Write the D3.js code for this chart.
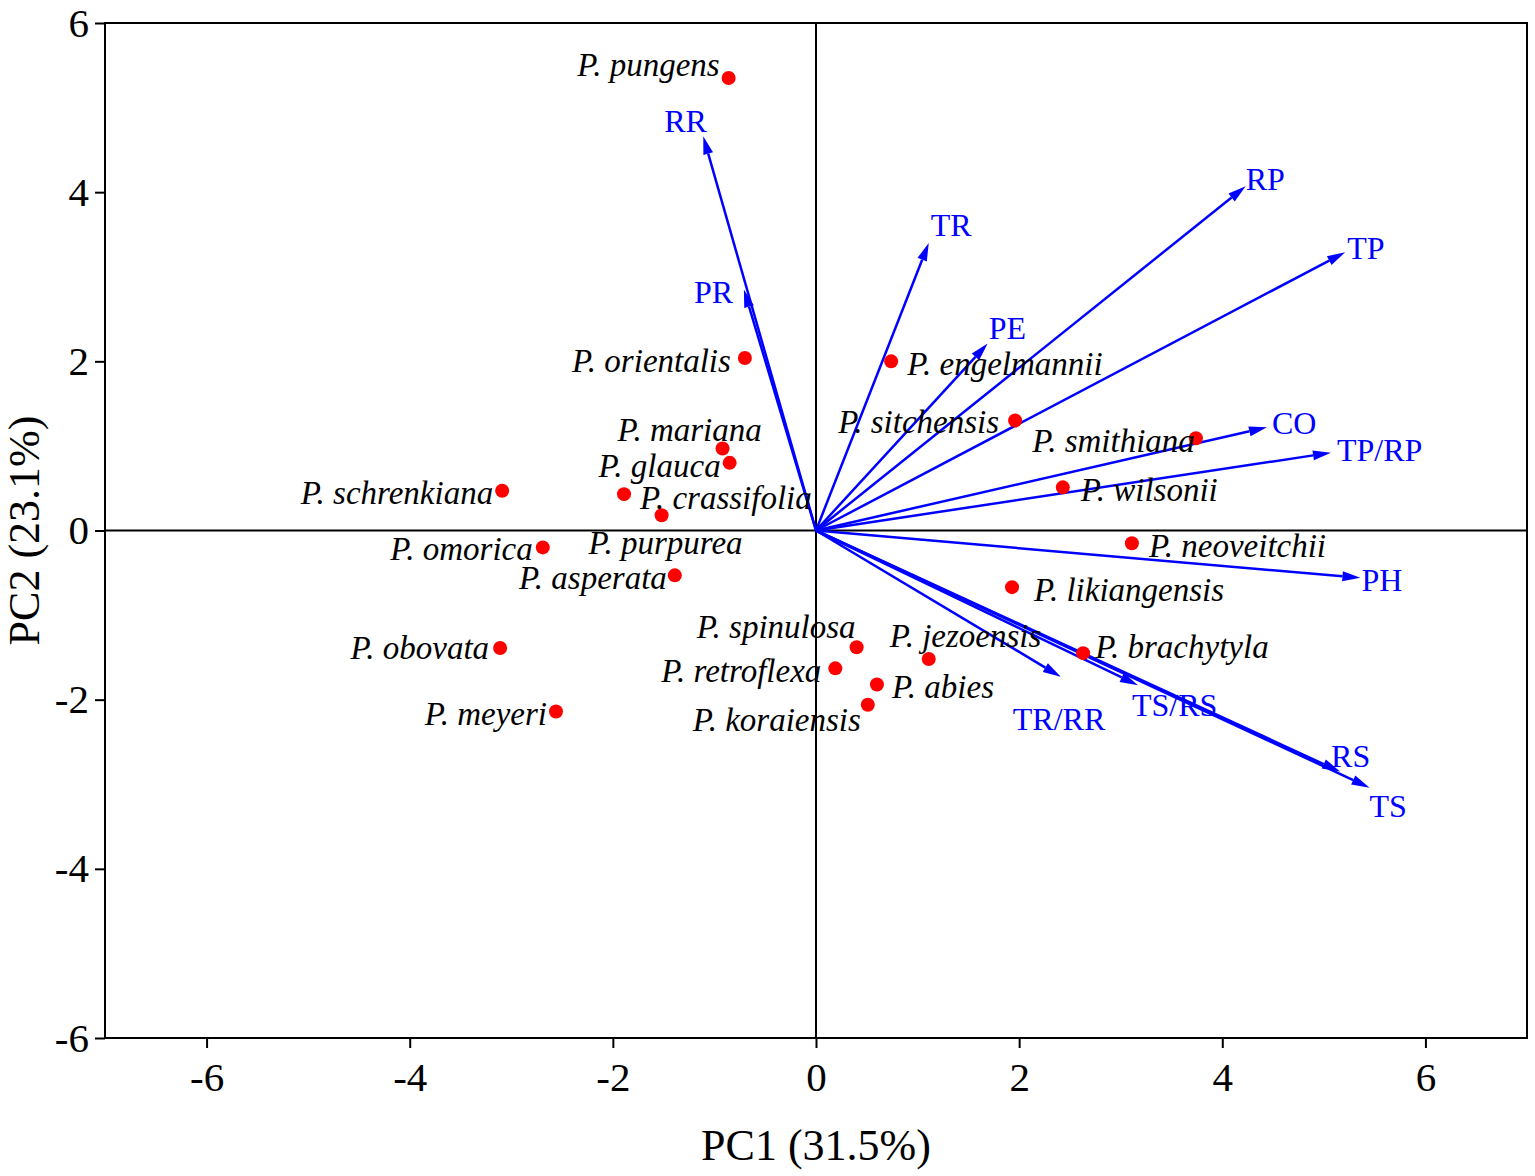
<!DOCTYPE html>
<html>
<head>
<meta charset="utf-8">
<script src="https://cdn.jsdelivr.net/npm/d3@7"></script>
<style>
  body { margin: 0; background: #fff; }
  text { font-family: "Liberation Serif", "Times New Roman", serif; }
  .species { font-style: italic; font-size: 33px; fill: #000; }
  .var-label { font-size: 32px; fill: #0000ff; }
  .axis text { font-size: 41px; fill: #000; }
  .axis path, .axis line { stroke: #000; stroke-width: 2px; }
  .axis-title { font-size: 44px; fill: #000; }
</style>
</head>
<body>
<div class="chart"></div>
<script>
"use strict";

// species scores (PC1, PC2)
const species = [
  "P. pungens", "P. orientalis", "P. mariana", "P. glauca", "P. crassifolia",
  "P. purpurea", "P. schrenkiana", "P. omorica", "P. asperata", "P. obovata",
  "P. meyeri", "P. spinulosa", "P. retroflexa", "P. abies", "P. koraiensis",
  "P. jezoensis", "P. engelmannii", "P. sitchensis", "P. smithiana",
  "P. wilsonii", "P. neoveitchii", "P. likiangensis", "P. brachytyla"
];
const pc1 = [
  -0.86, -0.70, -0.92, -0.85, -1.89, -1.52, -3.09, -2.69, -1.39, -3.11,
  -2.56, 0.40, 0.19, 0.60, 0.51, 1.11, 0.74, 1.96, 3.74, 2.43, 3.11, 1.93, 2.63
];
const pc2 = [
  5.35, 2.04, 0.97, 0.80, 0.43, 0.18, 0.47, -0.20, -0.53, -1.39,
  -2.14, -1.38, -1.63, -1.82, -2.06, -1.52, 2.00, 1.30, 1.09, 0.51, -0.15, -0.67, -1.45
];

// variable loadings (arrow tips)
const variables = ["RR", "PR", "TR", "PE", "RP", "TP", "CO", "TP/RP", "PH", "TR/RR", "TS/RS", "RS", "TS"];
const load1 = [-1.11, -0.71, 1.11, 1.69, 4.23, 5.21, 4.44, 5.07, 5.36, 2.41, 3.17, 5.16, 5.45];
const load2 = [4.66, 2.85, 3.40, 2.21, 4.07, 3.29, 1.22, 0.92, -0.56, -1.73, -1.83, -2.85, -3.04];

const ticks = [-6, -4, -2, 0, 2, 4, 6];

// label placement relative to the point (px): [dx, dy, anchor]
const speciesNudge = {
  "P. pungens": [-9, -14, "end"],
  "P. orientalis": [-14, 2, "end"],
  "P. mariana": [-105, -19, "start"],
  "P. glauca": [-9, 3, "end"],
  "P. crassifolia": [16, 3, "start"],
  "P. purpurea": [-73, 27, "start"],
  "P. schrenkiana": [-9, 2, "end"],
  "P. omorica": [-10, 1, "end"],
  "P. asperata": [-8, 2, "end"],
  "P. obovata": [-11, -1, "end"],
  "P. meyeri": [-9, 2, "end"],
  "P. spinulosa": [-1, -21, "end"],
  "P. retroflexa": [-14, 2, "end"],
  "P. abies": [15, 2, "start"],
  "P. koraiensis": [-7, 15, "end"],
  "P. jezoensis": [-39, -24, "start"],
  "P. engelmannii": [16, 2, "start"],
  "P. sitchensis": [-16, 1, "end"],
  "P. smithiana": [-1, 2, "end"],
  "P. wilsonii": [18, 2, "start"],
  "P. neoveitchii": [17, 2, "start"],
  "P. likiangensis": [22, 2, "start"],
  "P. brachytyla": [12, -7, "start"]
};
const varNudge = {
  "RR": [-39, -16], "PR": [-50, 2], "TR": [2, -18], "PE": [1, -16],
  "RP": [0, -7], "TP": [2, -4], "CO": [5, -5], "TP/RP": [6, -3],
  "PH": [1, 2], "TR/RR": [-48, 42], "TS/RS": [-6, 20], "RS": [-9, -16], "TS": [0, 18]
};

const MARGIN = { top: 23, right: 8, bottom: 138, left: 105 };
const WIDTH = 1535 - MARGIN.left - MARGIN.right,
  HEIGHT = 1176 - MARGIN.top - MARGIN.bottom;

const xScale = d3.scaleLinear().domain([-7, 7]).range([0, WIDTH]);
const yScale = d3.scaleLinear().domain([-6, 6]).range([HEIGHT, 0]);

const svg = d3
  .select(".chart")
  .append("svg")
  .attr("width", 1535)
  .attr("height", 1176)
  .append("g")
  .attr("transform", `translate(${MARGIN.left},${MARGIN.top})`);

// frame
svg
  .append("rect")
  .attr("width", WIDTH)
  .attr("height", HEIGHT)
  .attr("fill", "none")
  .attr("stroke", "#000")
  .attr("stroke-width", 2);

// zero lines
svg.append("line")
  .attr("x1", 0).attr("x2", WIDTH)
  .attr("y1", yScale(0)).attr("y2", yScale(0))
  .attr("stroke", "#000").attr("stroke-width", 2);
svg.append("line")
  .attr("x1", xScale(0)).attr("x2", xScale(0))
  .attr("y1", 0).attr("y2", HEIGHT)
  .attr("stroke", "#000").attr("stroke-width", 2);

// axes (plain hyphen for negatives, as in the original)
const fmt = (d) => String(d);
const xAxis = d3.axisBottom(xScale).tickValues(ticks).tickFormat(fmt).tickSize(10).tickSizeOuter(0).tickPadding(8);
const yAxis = d3.axisLeft(yScale).tickValues(ticks).tickFormat(fmt).tickSize(10).tickSizeOuter(0).tickPadding(6);

svg.append("g")
  .attr("class", "axis x-axis")
  .attr("transform", `translate(0,${HEIGHT})`)
  .call(xAxis)
  .call((g) => g.select(".domain").remove())
  .selectAll("text").attr("dy", "0.85em");

svg.append("g")
  .attr("class", "axis y-axis")
  .call(yAxis)
  .call((g) => g.select(".domain").remove());

svg.append("text")
  .attr("class", "axis-title")
  .attr("x", xScale(0))
  .attr("y", HEIGHT + 122)
  .attr("text-anchor", "middle")
  .text("PC1 (31.5%)");

svg.append("text")
  .attr("class", "axis-title")
  .attr("transform", `translate(${-66},${yScale(0)}) rotate(-90)`)
  .attr("text-anchor", "middle")
  .text("PC2 (23.1%)");

// arrows
const loadings = variables.map((v, i) => ({ name: v, x: load1[i], y: load2[i] }));
const ox = xScale(0), oy = yScale(0);
const HEAD_L = 18, HEAD_W = 5;

const arrows = svg.append("g").attr("class", "arrows");
loadings.forEach((d) => {
  const tx = xScale(d.x), ty = yScale(d.y);
  const ang = Math.atan2(ty - oy, tx - ox);
  const bx = tx - HEAD_L * Math.cos(ang), by = ty - HEAD_L * Math.sin(ang);
  arrows.append("line")
    .attr("x1", ox).attr("y1", oy)
    .attr("x2", bx).attr("y2", by)
    .attr("stroke", "#0000ff").attr("stroke-width", 2.5);
  const px = -Math.sin(ang) * HEAD_W, py = Math.cos(ang) * HEAD_W;
  arrows.append("path")
    .attr("d", `M${tx},${ty}L${bx + px},${by + py}L${bx - px},${by - py}Z`)
    .attr("fill", "#0000ff");
  const n = varNudge[d.name];
  arrows.append("text")
    .attr("class", "var-label")
    .attr("x", tx + n[0])
    .attr("y", ty + n[1])
    .attr("dy", "0.35em")
    .text(d.name);
});

// species points
const scores = species.map((s, i) => ({ name: s, x: pc1[i], y: pc2[i] }));

svg.selectAll("circle.pt")
  .data(scores)
  .enter()
  .append("circle")
  .attr("class", "pt")
  .attr("cx", (d) => xScale(d.x))
  .attr("cy", (d) => yScale(d.y))
  .attr("r", 7)
  .attr("fill", "#ff0000");

svg.selectAll("text.species")
  .data(scores)
  .enter()
  .append("text")
  .attr("class", "species")
  .attr("x", (d) => xScale(d.x) + speciesNudge[d.name][0])
  .attr("y", (d) => yScale(d.y) + speciesNudge[d.name][1])
  .attr("dy", "0.35em")
  .attr("text-anchor", (d) => speciesNudge[d.name][2])
  .text((d) => d.name);
</script>
</body>
</html>
